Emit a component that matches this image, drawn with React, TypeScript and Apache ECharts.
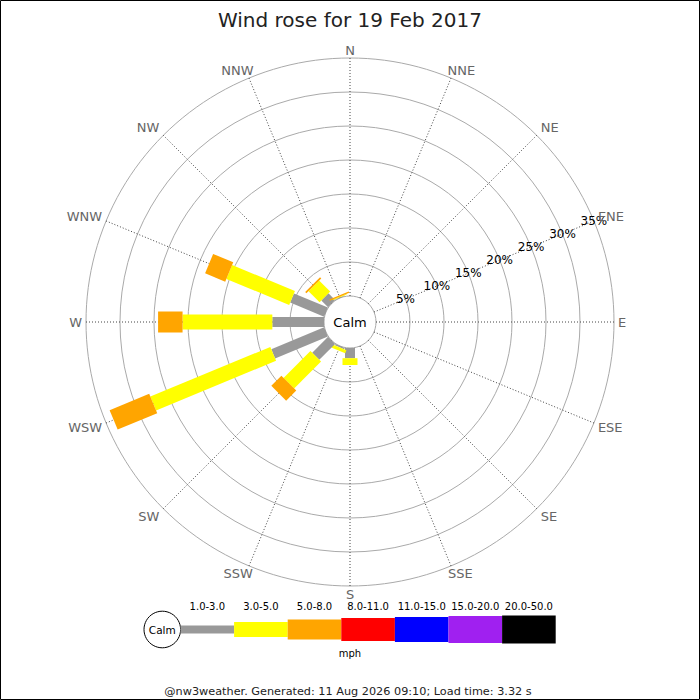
import { useEffect, useRef } from 'react'
import * as echarts from 'echarts'

const directions = ['N', 'NNE', 'NE', 'ENE', 'E', 'ESE', 'SE', 'SSE', 'S', 'SSW', 'SW', 'WSW', 'W', 'WNW', 'NW', 'NNW']
const speedClasses = ['1.0-3.0', '3.0-5.0', '5.0-8.0', '8.0-11.0', '11.0-15.0', '15.0-20.0', '20.0-50.0']
const classColors = ['#999999', '#ffff00', '#ffa500', '#ff0000', '#0000ff', '#a020f0', '#000000']

// % of time per direction (N -> NNW) for each speed class
const speed1to3 = [0, 0, 0, 0, 0, 0, 0, 0, 1.5, 0.2, 3.3, 8.4, 7.6, 5.4, 1.4, 0.1]
const speed3to5 = [0, 0, 0, 0, 0, 0, 0, 0, 1.0, 0.5, 5.6, 19.1, 13.2, 10.0, 2.3, 0.1]
const speed5to8 = [0, 0, 0, 0, 0, 0, 0, 0, 0, 0, 2.1, 6.3, 3.6, 3.2, 0.25, 0.2]
const speed8to11 = [0, 0, 0, 0, 0, 0, 0, 0, 0, 0, 0, 0, 0, 0, 0, 0]
const speed11to15 = [0, 0, 0, 0, 0, 0, 0, 0, 0, 0, 0, 0, 0, 0, 0, 0]
const speed15to20 = [0, 0, 0, 0, 0, 0, 0, 0, 0, 0, 0, 0, 0, 0, 0, 0]
const speed20to50 = [0, 0, 0, 0, 0, 0, 0, 0, 0, 0, 0, 0, 0, 0, 0, 0]
const ringTicks = [5, 10, 15, 20, 25, 30, 35]
const RING_MAX = 35

const speedSeries = [speed1to3, speed3to5, speed5to8, speed8to11, speed11to15, speed15to20, speed20to50]

const FONT = 'DejaVu Sans'
const CENTER = [350, 322]
const BAR_WIDTHS = [10, 15, 21, 23, 25, 27, 28]
const LEGEND_HEIGHTS = [8, 15, 20, 23, 25, 27, 28]
const DIR_FONT = `13px "${FONT}"`

let measureCtx: CanvasRenderingContext2D | null = null
function textWidth(text: string, font: string) {
  if (!measureCtx) measureCtx = document.createElement('canvas').getContext('2d')
  if (!measureCtx) return text.length * 8
  measureCtx.font = font
  return measureCtx.measureText(text).width
}

export default function App() {
  const chartRef = useRef<HTMLDivElement>(null)

  useEffect(() => {
    if (!chartRef.current) return
    const chart = echarts.init(chartRef.current, null, { renderer: 'svg' })

    // stacked segments: [start, angle, end, class]
    const segments: number[][] = []
    directions.forEach((_, d) => {
      let cum = 0
      speedSeries.forEach((vals, c) => {
        const v = vals[d]
        if (v > 0) segments.push([cum, d * 22.5, cum + v, c])
        cum += v
      })
    })

    // legend
    const legendX0 = 180.5
    const legendW = 53.6
    const legendY = 629.5
    const legendEls: any[] = [
      {
        type: 'circle',
        shape: { cx: 162.3, cy: legendY, r: 18.3 },
        style: { fill: '#fff', stroke: '#000', lineWidth: 1 },
      },
      {
        type: 'text',
        x: 162.3,
        y: legendY,
        style: { text: 'Calm', font: `10.5px "${FONT}"`, fill: '#000', align: 'center', verticalAlign: 'middle' },
      },
    ]
    speedClasses.forEach((label, i) => {
      const x = legendX0 + i * legendW
      legendEls.push({
        type: 'rect',
        shape: { x, y: legendY - LEGEND_HEIGHTS[i] / 2, width: legendW, height: LEGEND_HEIGHTS[i] },
        style: { fill: classColors[i] },
      })
      legendEls.push({
        type: 'text',
        x: x + legendW / 2,
        y: 606.5,
        style: { text: label, font: `10px "${FONT}"`, fill: '#000', align: 'center', verticalAlign: 'middle' },
      })
    })

    chart.setOption({
      animation: false,
      backgroundColor: '#fff',
      textStyle: { fontFamily: FONT },
      title: {
        text: 'Wind rose for 19 Feb 2017',
        left: 'center',
        top: 5,
        textStyle: { fontSize: 20, fontWeight: 'normal', color: '#222', fontFamily: FONT },
      },
      polar: { center: CENTER, radius: [26, 264] },
      radiusAxis: {
        type: 'value',
        min: 0,
        max: RING_MAX,
        interval: 5,
        axisLine: { show: false },
        axisTick: { show: false },
        axisLabel: { show: false },
        splitLine: { show: true, lineStyle: { color: '#aaaaaa', width: 1 } },
      },
      angleAxis: {
        type: 'value',
        min: 0,
        max: 360,
        interval: 22.5,
        startAngle: 90,
        clockwise: true,
        axisLine: { show: false },
        axisTick: { show: false },
        axisLabel: { show: false },
        splitLine: { show: true, lineStyle: { color: '#444', width: 1, type: [1, 2] } },
      },
      graphic: [
        {
          type: 'text',
          x: CENTER[0],
          y: CENTER[1],
          style: { text: 'Calm', font: `13px "${FONT}"`, fill: '#000', align: 'center', verticalAlign: 'middle' },
        },
        ...legendEls,
        {
          type: 'text',
          x: 350,
          y: 653.5,
          style: { text: 'mph', font: `10px "${FONT}"`, fill: '#000', align: 'center', verticalAlign: 'middle' },
        },
        {
          type: 'text',
          x: 348,
          y: 691,
          style: {
            text: '@nw3weather. Generated: 11 Aug 2026 09:10; Load time: 3.32 s',
            font: `11.25px "${FONT}"`,
            fill: '#222',
            align: 'center',
            verticalAlign: 'middle',
          },
        },
        {
          type: 'rect',
          shape: { x: 0.5, y: 0.5, width: 699, height: 699 },
          style: { fill: 'none', stroke: '#000', lineWidth: 1 },
          silent: true,
        },
      ],
      series: [
        {
          type: 'custom',
          coordinateSystem: 'polar',
          encode: { radius: 0, angle: 1 },
          data: segments,
          renderItem: (_params: any, api: any) => {
            const r0 = api.value(0)
            const ang = api.value(1)
            const r1 = api.value(2)
            const c = api.value(3)
            const p0 = api.coord([r0, ang])
            const p1 = api.coord([r1, ang])
            let ux = p1[0] - p0[0]
            let uy = p1[1] - p0[1]
            const len = Math.hypot(ux, uy) || 1
            ux /= len
            uy /= len
            const h = BAR_WIDTHS[c] / 2
            const nx = -uy * h
            const ny = ux * h
            return {
              type: 'polygon',
              shape: {
                points: [
                  [p0[0] + nx, p0[1] + ny],
                  [p1[0] + nx, p1[1] + ny],
                  [p1[0] - nx, p1[1] - ny],
                  [p0[0] - nx, p0[1] - ny],
                ],
              },
              style: { fill: classColors[c] },
            }
          },
        },
        {
          // percentage labels along the ENE spoke
          type: 'custom',
          coordinateSystem: 'polar',
          encode: { radius: 0, angle: 1 },
          data: ringTicks.map((t) => [t, 67.5]),
          renderItem: (_params: any, api: any) => {
            const p = api.coord([api.value(0), api.value(1)])
            return {
              type: 'text',
              x: p[0],
              y: p[1],
              style: {
                text: `${api.value(0)}%`,
                font: `12px "${FONT}"`,
                fill: '#000',
                align: 'center',
                verticalAlign: 'middle',
              },
            }
          },
        },
        {
          // compass direction labels just outside the outer ring
          type: 'custom',
          coordinateSystem: 'polar',
          encode: { radius: 0, angle: 1 },
          data: directions.map((_, i) => [RING_MAX, i * 22.5]),
          renderItem: (params: any, api: any) => {
            const ang = api.value(1)
            const pIn = api.coord([0, ang])
            const pOut = api.coord([api.value(0), ang])
            let ux = pOut[0] - pIn[0]
            let uy = pOut[1] - pIn[1]
            const len = Math.hypot(ux, uy) || 1
            ux /= len
            uy /= len
            const label = directions[params.dataIndex]
            const hw = textWidth(label, DIR_FONT) / 2
            const fx = Math.sign(ux) * Math.min(1, Math.abs(ux) * 1.5)
            const fy = Math.sign(uy) * Math.min(1, Math.abs(uy) * 1.5)
            const snap = (v: number) => (Math.abs(v) < 1e-6 ? 0 : v)
            return {
              type: 'text',
              x: pOut[0] + snap(fx) * (hw + 4),
              y: pOut[1] + snap(fy) * 8,
              style: {
                text: label,
                font: DIR_FONT,
                fill: '#666',
                align: 'center',
                verticalAlign: 'middle',
              },
            }
          },
        },
      ],
    })

    return () => chart.dispose()
  }, [])

  return <div ref={chartRef} style={{ position: 'fixed', left: 0, top: 0, width: 700, height: 700 }} />
}
